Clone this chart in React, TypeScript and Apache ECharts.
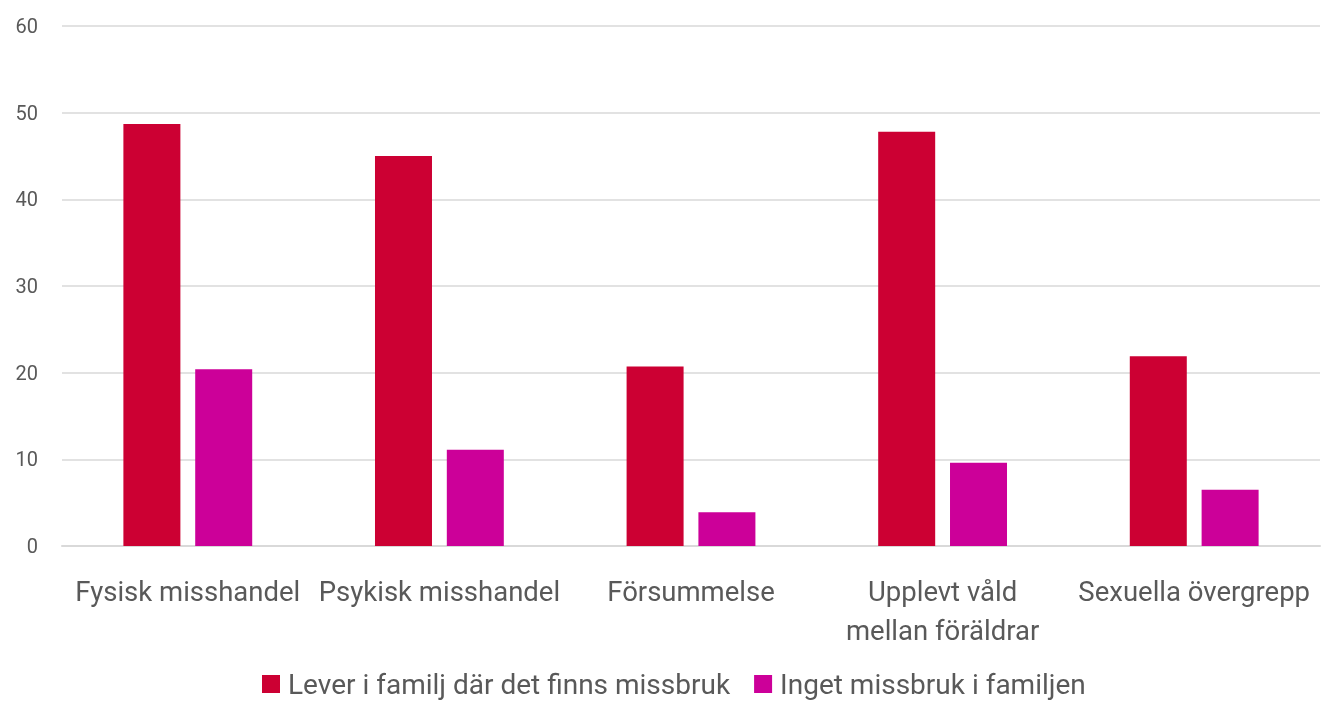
import React, { useEffect, useRef } from "react";
import * as echarts from "echarts";

const categories = ["Fysisk misshandel", "Psykisk misshandel", "Försummelse", "Upplevt våld\nmellan föräldrar", "Sexuella övergrepp"];
const seriesNames = ["Lever i familj där det finns missbruk", "Inget missbruk i familjen"];
const withAbuse = [48.7, 45.0, 20.7, 47.8, 21.9];
const withoutAbuse = [20.4, 11.1, 3.9, 9.6, 6.5];
const yTicks = { min: 0, max: 60, interval: 10 };

const FONT = "Roboto, sans-serif";
const TEXT = "#595959";

export default function App() {
  const ref = useRef<HTMLDivElement>(null);
  useEffect(() => {
    if (!ref.current) return;
    const chart = echarts.init(ref.current, null, { renderer: "svg" });
    chart.setOption({
      animation: false,
      textStyle: { fontFamily: FONT },
      grid: { left: 62, right: 5, top: 26, bottom: 157, containLabel: false },
      legend: {
        left: 262,
        top: 668,
        padding: 0,
        itemWidth: 18,
        itemHeight: 18,
        itemGap: 24,
        icon: "rect",
        textStyle: { fontFamily: FONT, fontSize: 28, lineHeight: 32, color: TEXT, padding: [0, 0, 0, 3] },
        data: seriesNames,
      },
      xAxis: {
        type: "category",
        data: categories,
        axisLine: { lineStyle: { color: "#d9d9d9", width: 2 } },
        axisTick: { show: false },
        axisLabel: { fontFamily: FONT, fontSize: 27.5, color: TEXT, margin: 26, lineHeight: 39, interval: 0 },
      },
      yAxis: {
        type: "value",
        min: yTicks.min,
        max: yTicks.max,
        interval: yTicks.interval,
        axisLine: { show: false },
        axisTick: { show: false },
        splitLine: { lineStyle: { color: "#d9d9d9", width: 1.5 } },
        axisLabel: { fontFamily: FONT, fontSize: 20, color: TEXT, margin: 24 },
      },
      series: [
        { name: seriesNames[0], type: "bar", data: withAbuse, barWidth: 57, barGap: "26%", itemStyle: { color: "#CC0033" } },
        { name: seriesNames[1], type: "bar", data: withoutAbuse, barWidth: 57, barGap: "26%", itemStyle: { color: "#CC0099" } },
      ],
    });
    return () => chart.dispose();
  }, []);
  return <div ref={ref} style={{ position: "fixed", left: 0, top: 0, width: 1325, height: 703 }} />;
}
